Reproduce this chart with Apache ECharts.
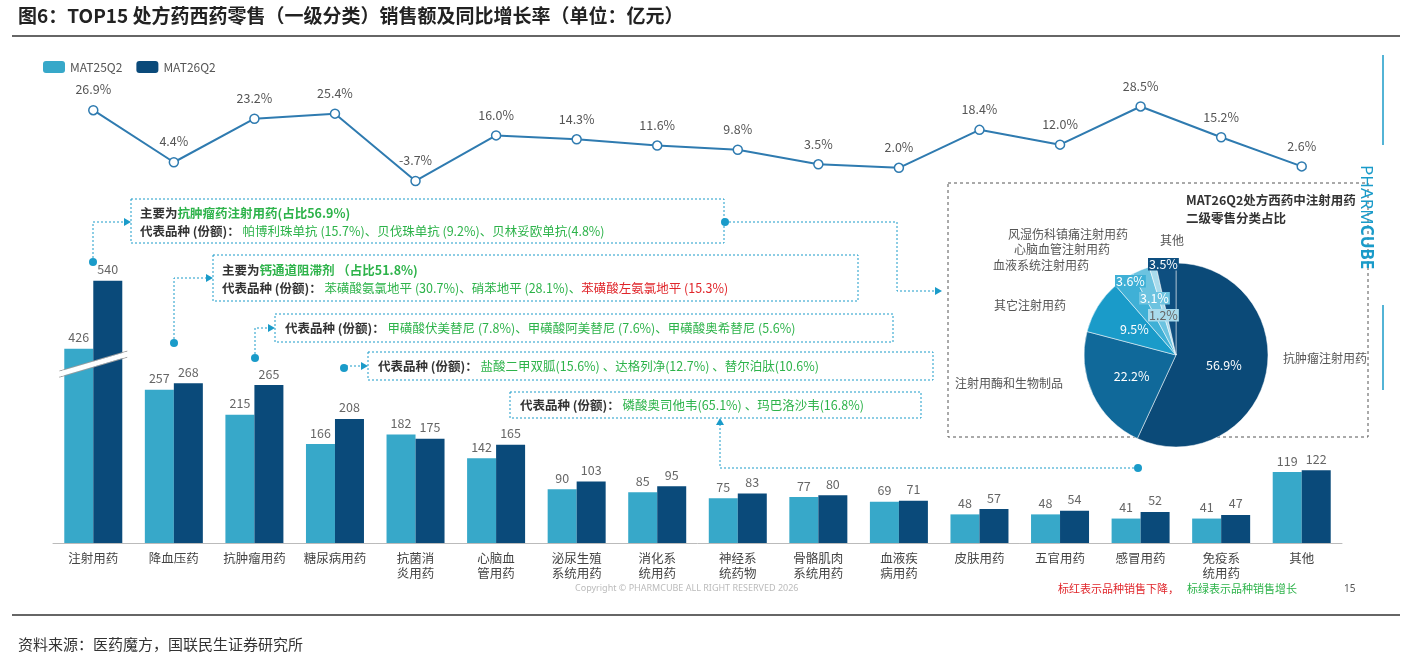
<!DOCTYPE html>
<html><head><meta charset="utf-8">
<script src="https://cdn.jsdelivr.net/npm/echarts@6/dist/echarts.min.js"></script>
<style>html,body{margin:0;padding:0;background:#fff}#c{width:1401px;height:663px}</style>
</head><body><div id="c"></div>
<script>
// 一级分类
var categories = ['注射用药','降血压药','抗肿瘤用药','糖尿病用药','抗菌消\n炎用药','心脑血\n管用药','泌尿生殖\n系统用药','消化系\n统用药','神经系\n统药物','骨骼肌肉\n系统用药','血液疾\n病用药','皮肤用药','五官用药','感冒用药','免疫系\n统用药','其他'];
var mat25 = [426,257,215,166,182,142,90,85,75,77,69,48,48,41,41,119];
var mat26 = [540,268,265,208,175,165,103,95,83,80,71,57,54,52,47,122];
var growth = [26.9,4.4,23.2,25.4,-3.7,16.0,14.3,11.6,9.8,3.5,2.0,18.4,12.0,28.5,15.2,2.6];
// 注射用药二级分类
var pieNames = ['抗肿瘤注射用药','注射用酶和生物制品','其它注射用药','血液系统注射用药','心脑血管注射用药','风湿伤科镇痛注射用药','其他'];
var pieValues = [56.9,22.2,9.5,3.6,3.1,1.2,3.5];
var pieColors = ['#0b4a78','#10699a','#1a9bc9','#3fb0d6','#6cc3e0','#a9dbec','#0e4f80'];
var breakStart = 300, breakEnd = 400;

var G = '#2db34a', K = '#333', R = '#e0262b';
var chart = echarts.init(document.getElementById('c'));
var dash = {stroke:'#1a9bc9',lineWidth:1,lineDash:[2,2]};
function poly(pts){return {type:'polyline',shape:{points:pts},style:dash,z:20};}
function dot(x,y){return {type:'circle',shape:{cx:x,cy:y,r:4},style:{fill:'#1a9bc9'},z:21};}
function arrowR(x,y){return {type:'polygon',shape:{points:[[x,y],[x-7,y-4],[x-7,y+4]]},style:{fill:'#1a9bc9'},z:21};}
function arrowU(x,y){return {type:'polygon',shape:{points:[[x,y],[x-4,y+7],[x+4,y+7]]},style:{fill:'#1a9bc9'},z:21};}
function box(x,y,w,h){return {type:'rect',shape:{x:x,y:y,width:w,height:h},style:{fill:'#fff',stroke:'#1a9bc9',lineWidth:1,lineDash:[2,2]},z:20};}
var F = 'Noto Sans CJK SC';
var rich = {b:{fontWeight:'bold',fill:K,fontSize:12.5,fontFamily:F},g:{fontWeight:'bold',fill:G,fontSize:12.5,fontFamily:F},n:{fill:G,fontSize:12.5,fontFamily:F},r:{fill:R,fontSize:12.5,fontFamily:F}};
function txt(x,y,s){return {type:'text',x:x,y:y,style:{text:s,rich:rich,fontFamily:F,lineHeight:18},z:22};}
function plain(x,y,s,o){return {type:'text',x:x,y:y,style:Object.assign({text:s,fontFamily:F,fontSize:12,fill:'#555'},o||{}),z:22};}
function pct(x,y,i,bg,c){return {type:'text',x:x,y:y,style:{text:pieValues[i].toFixed(1)+'%',fontFamily:F,fontSize:12.5,fill:c||'#fff',backgroundColor:bg,padding:[0,1]},z:40};}

chart.setOption({
  animation:false,
  textStyle:{fontFamily:F},
  legend:{left:38,top:56,itemWidth:22,itemHeight:12,itemGap:14,textStyle:{color:'#555',fontSize:12},data:['MAT25Q2','MAT26Q2']},
  grid:[{left:53,right:59,top:202,bottom:120},{left:53,right:59,top:103,bottom:479}],
  xAxis:[
    {type:'category',data:categories,gridIndex:0,axisTick:{show:false},axisLine:{lineStyle:{color:'#bbb'}},axisLabel:{color:'#444',fontSize:12.5,lineHeight:15,interval:0}},
    {type:'category',data:categories,gridIndex:1,show:false}
  ],
  yAxis:[
    {type:'value',gridIndex:0,min:0,max:672,show:true,axisLine:{show:false},axisTick:{show:false},axisLabel:{show:false},splitLine:{show:false},
     breaks:[{start:breakStart,end:breakEnd,gap:0}],
     breakArea:{show:false},breakLabelLayout:{moveOverlap:false}},
    {type:'value',gridIndex:1,min:-5,max:30,show:false,splitLine:{show:false}}
  ],
  series:[
    {name:'MAT25Q2',type:'bar',data:mat25,barWidth:29,barGap:'0%',itemStyle:{color:'#37a8c9'},label:{show:true,position:'top',color:'#666',fontSize:12.5}},
    {name:'MAT26Q2',type:'bar',data:mat26,barWidth:29,itemStyle:{color:'#0a4a7a'},label:{show:true,position:'top',color:'#666',fontSize:12.5}},
    {name:'增长率',type:'line',xAxisIndex:1,yAxisIndex:1,data:growth,symbol:'circle',symbolSize:9,
     lineStyle:{color:'#2f7bb0',width:2},itemStyle:{color:'#fff',borderColor:'#2f7bb0',borderWidth:1.5},
     label:{show:true,position:'top',distance:9,color:'#555',fontSize:12.5,formatter:function(p){return p.value.toFixed(1)+'%';}}},
    {type:'pie',center:[1176,355],radius:[0,92],startAngle:90,clockwise:true,z:30,data:pieNames.map(function(n,i){return {name:n,value:pieValues[i],itemStyle:{color:pieColors[i]}};}),
     itemStyle:{borderColor:'#fff',borderWidth:0.5},
     label:{show:true,position:'inside',color:'#fff',fontSize:12.5,formatter:function(p){return p.value>5?p.value.toFixed(1)+'%':'';}},labelLine:{show:false}}
  ],
  graphic:[
    {type:'text',x:18,y:6,style:{text:'图6：TOP15 处方药西药零售（一级分类）销售额及同比增长率（单位：亿元）',fontFamily:F,fontSize:19,fontWeight:'bold',fill:'#222'}},
    {type:'line',shape:{x1:12,y1:36,x2:1400,y2:36},style:{stroke:'#333',lineWidth:1.5}},
    {type:'line',shape:{x1:12,y1:615,x2:1400,y2:615},style:{stroke:'#333',lineWidth:1.5}},
    {type:'text',x:18,y:637,style:{text:'资料来源：医药魔方，国联民生证券研究所',fontFamily:F,fontSize:15,fill:'#333'}},
    {type:'text',x:575,y:584,style:{text:'Copyright © PHARMCUBE ALL RIGHT RESERVED 2026',fontFamily:'Noto Sans',fontSize:9,fill:'#bbb'}},
    {type:'text',x:1058,y:583,style:{text:'标红表示品种销售下降，',fontFamily:F,fontSize:11,fill:R}},
    {type:'text',x:1187,y:583,style:{text:'标绿表示品种销售增长',fontFamily:F,fontSize:11,fill:G}},
    {type:'text',x:1344,y:584,style:{text:'15',fontFamily:'Noto Sans',fontSize:10,fill:'#555'}},
    // brand
    {type:'line',shape:{x1:1383,y1:55,x2:1383,y2:145},style:{stroke:'#1a9bc9',lineWidth:1.5},z:30},
    {type:'line',shape:{x1:1383,y1:305,x2:1383,y2:390},style:{stroke:'#1a9bc9',lineWidth:1.5},z:30},
    {type:'text',x:1374,y:165,rotation:-Math.PI/2,z:30,style:{text:'PHARM{b|CUBE}',rich:{b:{fontWeight:'bold',fill:'#1a9bc9',fontSize:17,fontFamily:'Noto Sans'}},fontFamily:'Noto Sans',fontSize:17,fill:'#1a9bc9'}},
    // pie box
    {type:'rect',shape:{x:948,y:183,width:420,height:254},style:{fill:'none',stroke:'#555',lineWidth:1,lineDash:[3,3]},z:25},
    {type:'text',x:1186,y:191,style:{text:'MAT26Q2处方西药中注射用药\n二级零售分类占比',fontFamily:F,fontSize:12.5,fontWeight:'bold',fill:'#333',lineHeight:18},z:25},
    plain(1283,352,'抗肿瘤注射用药'),
    plain(955,377,'注射用酶和生物制品'),
    plain(994,299,'其它注射用药'),
    plain(993,259,'血液系统注射用药'),
    plain(1014,243,'心脑血管注射用药'),
    plain(1008,228,'风湿伤科镇痛注射用药'),
    plain(1160,234,'其他'),
    pct(1148,258,6,'#0e4f80'),
    pct(1115,275,3,'#3fb0d6'),
    pct(1139,292,4,'#6cc3e0'),
    pct(1148,309,5,'#a9dbec','#666'),
    // annotation 1
    box(131,199,593,44),
    txt(140,204,'{b|主要为}{g|抗肿瘤药注射用药(占比56.9%)}\n{b|代表品种 (份额)：}{n| 帕博利珠单抗 (15.7%)、贝伐珠单抗 (9.2%)、贝林妥欧单抗(4.8%)}'),
    poly([[93,262],[93,222],[128,222]]),dot(93,262),arrowR(131,222),
    poly([[725,222],[897,222],[897,291],[938,291]]),dot(725,222),arrowR(942,291),
    // annotation 2
    box(213,255,645,46),
    txt(222,261,'{b|主要为}{g|钙通道阻滞剂 （占比51.8%)}\n{b|代表品种 (份额)：}{n| 苯磺酸氨氯地平 (30.7%)、硝苯地平 (28.1%)、}{r|苯磺酸左氨氯地平 (15.3%)}'),
    poly([[174,343],[174,278],[210,278]]),dot(174,343),arrowR(213,278),
    // annotation 3
    box(275,314,618,28),
    txt(285,319,'{b|代表品种 (份额)：}{n| 甲磺酸伏美替尼 (7.8%)、甲磺酸阿美替尼 (7.6%)、甲磺酸奥希替尼 (5.6%)}'),
    poly([[255,358],[255,328],[272,328]]),dot(255,358),arrowR(275,328),
    // annotation 4
    box(368,352,565,28),
    txt(378,357,'{b|代表品种 (份额)：}{n| 盐酸二甲双胍(15.6%) 、达格列净(12.7%) 、替尔泊肽(10.6%)}'),
    poly([[344,368],[344,366],[365,366]]),dot(344,368),arrowR(368,366),
    // annotation 5
    box(510,392,411,26),
    txt(520,396,'{b|代表品种 (份额)：}{n| 磷酸奥司他韦(65.1%) 、玛巴洛沙韦(16.8%)}'),
    poly([[1138,468],[720,468],[720,422]]),dot(1138,468),arrowU(720,418)
  ]
});
// 断轴标记：第一组柱子上的白色斜线
var by = chart.convertToPixel({yAxisIndex:0}, breakStart + 20);
var bx = chart.convertToPixel({xAxisIndex:0}, 0);
chart.setOption({graphic:[
  {id:'brk1',type:'line',shape:{x1:bx-34,y1:by+10,x2:bx+34,y2:by-10},style:{stroke:'#fff',lineWidth:5},z:15},
  {id:'brk2',type:'line',shape:{x1:bx-34,y1:by+13,x2:bx+34,y2:by-7},style:{stroke:'#999',lineWidth:1},z:14},
  {id:'brk3',type:'line',shape:{x1:bx-34,y1:by+7,x2:bx+34,y2:by-13},style:{stroke:'#999',lineWidth:1},z:14}
]});
</script></body></html>
